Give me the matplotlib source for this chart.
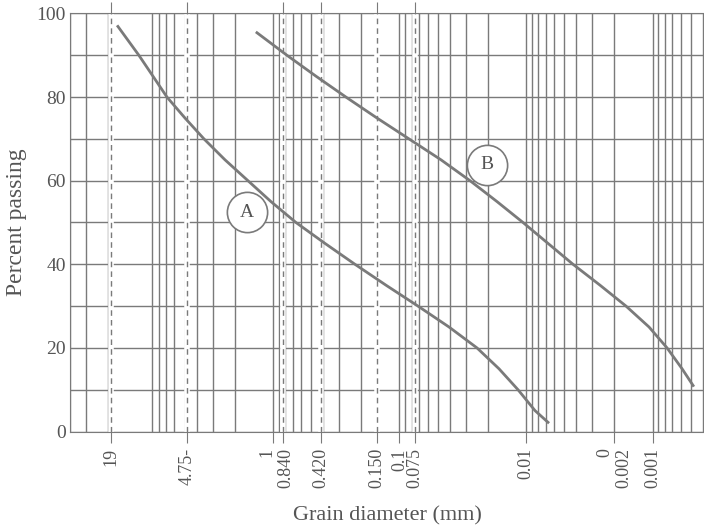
import matplotlib.pyplot as plt
import matplotlib.transforms as mtransforms
import numpy as np
from matplotlib.ticker import LogLocator, NullFormatter

plt.rcParams['font.family'] = ['Liberation Serif', 'DejaVu Serif']

# curve A : grain diameter (mm) / percent passing
dA = [16.80, 11.47, 8.88, 6.88, 4.96, 3.51, 2.395, 1.576, 1.037, 0.658, 0.388,
      0.2248, 0.1278, 0.0714, 0.0406, 0.0244, 0.01634, 0.01157, 0.00849, 0.0067]
pA = [96.9, 90, 85, 80, 75, 70, 65, 60, 55, 50, 45, 40, 35, 30, 25, 20, 15, 10, 5, 2.2]
# curve B
dB = [1.338, 0.775, 0.4571, 0.2648, 0.1507, 0.0841, 0.0470, 0.0277, 0.01695, 0.01056,
      0.0067, 0.00425, 0.0026, 0.00162, 0.001066, 0.000768, 0.000584, 0.000478]
pB = [95.4, 90, 85, 80, 75, 70, 65, 60, 55, 50, 45, 40, 35, 30, 25, 20, 15, 11]

sieves = [19, 4.75, 0.840, 0.420, 0.150, 0.075]
tick_vals = [19, 4.75, 1, 0.840, 0.420, 0.150, 0.1, 0.075, 0.01, 0.002, 0.001]
tick_labels = ['19', '4.75-', '1', '0.840', '0.420', '0.150', '0.1', '0.075',
               '0.01', '0\n0.002', '0.001']

labels = ['A', 'B']
label_pos = [(1.61, 52.5), (0.0204, 63.8)]

grey = '#7a7a7a'
txt = '#555555'

fig = plt.figure(figsize=(7.04, 5.27), dpi=100)
ax = fig.add_axes([0.0994, 0.1812, 0.9006, 0.7932])

ax.set_xscale('log')
ax.set_xlim(40.2, 0.000392)
ax.set_ylim(0, 100)

# grid
ax.xaxis.set_minor_locator(LogLocator(base=10, subs=np.arange(2, 10)))
ax.xaxis.set_minor_formatter(NullFormatter())
ax.set_yticks(np.arange(0, 101, 20))
ax.set_yticks(np.arange(10, 100, 20), minor=True)
ax.grid(True, which='both', color=grey, lw=1.0)
ax.set_axisbelow(True)

for s in sieves:
    ax.axvline(s, color='white', lw=4, zorder=1.5)
    ax.axvline(s, color=grey, lw=1.0, ls=(0, (4, 3)), zorder=1.6)

ax.plot(dA, pA, color=grey, lw=2, zorder=3, solid_joinstyle='round')
ax.plot(dB, pB, color=grey, lw=2, zorder=3, solid_joinstyle='round')

for lab, (x, y) in zip(labels, label_pos):
    ax.plot(x, y, marker='o', ms=29, mfc='white', mec=grey, mew=1.2, zorder=4)
    ax.text(x, y, lab, ha='center', va='center', fontsize=14, color=txt, zorder=5)

ax.set_xticks(tick_vals)
ax.set_xticklabels(tick_labels, rotation=90, multialignment='right')
ax.tick_params(axis='x', which='major', length=8, color=grey, labelsize=13,
               labelcolor=txt, pad=4)
ax.tick_params(axis='x', which='minor', length=0)
ax.tick_params(axis='y', which='both', length=0, labelsize=14, labelcolor=txt, pad=3)

# spread the crowded "1" / "0.840" labels a little
xl = ax.get_xticklabels()
xl[2].set_transform(xl[2].get_transform() + mtransforms.ScaledTranslation(-6 / 100, 0, fig.dpi_scale_trans))
xl[3].set_transform(xl[3].get_transform() + mtransforms.ScaledTranslation(3 / 100, 0, fig.dpi_scale_trans))

top = ax.secondary_xaxis('top')
top.set_xticks(sieves)
top.set_xticklabels([])
top.tick_params(length=8, color=grey)
top.xaxis.set_minor_locator(plt.NullLocator())
top.spines['top'].set_visible(False)

for sp in ['left', 'bottom', 'top']:
    ax.spines[sp].set_color(grey)
ax.spines['right'].set_visible(False)

ax.set_xlabel('Grain diameter (mm)', fontsize=16, color=txt, labelpad=13)
ax.set_ylabel('Percent passing', fontsize=17, color=txt)
ax.yaxis.set_label_coords(-0.068, 0.5)

fig.savefig('out.png', dpi=100)
